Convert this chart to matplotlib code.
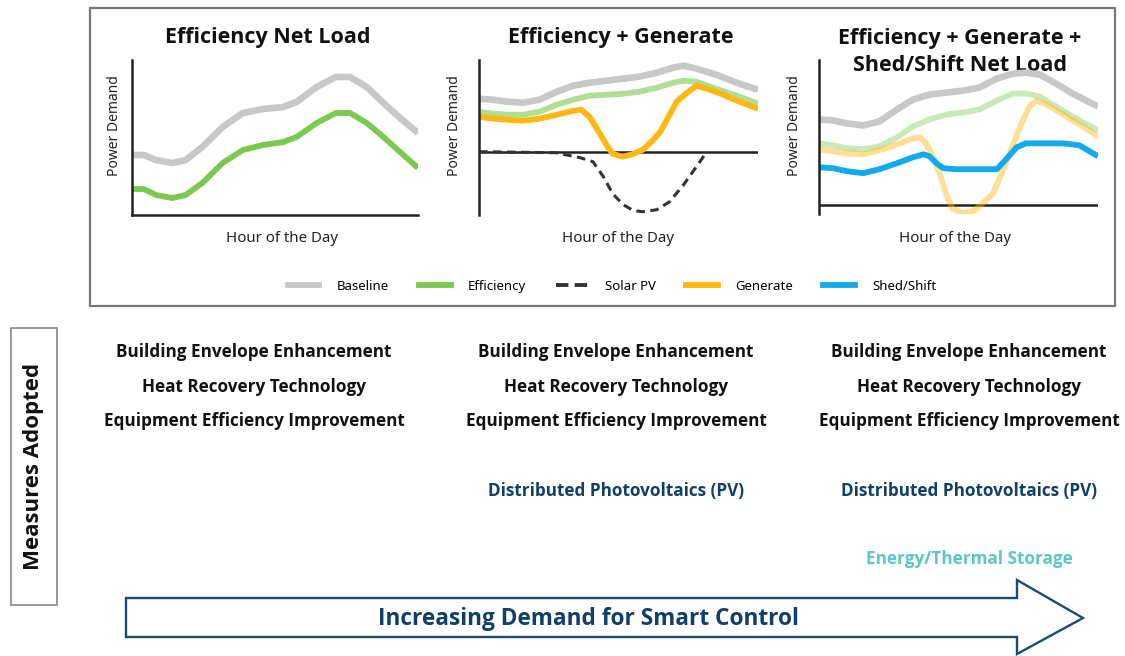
import matplotlib.pyplot as plt
from matplotlib.patches import Polygon, Rectangle
from matplotlib.lines import Line2D

# ---- data (hour of day vs. relative power demand) ----
H1 = [0, 1, 2, 3.4, 4.5, 5.9, 7.6, 9.3, 11, 12.7, 13.8, 15.5, 17.1, 18.3, 19.7, 21.1, 22.5, 24]
base1 = [60, 60, 55, 52, 55, 68, 88, 102, 106, 108, 113, 128, 138, 138, 128, 112, 97, 82]
eff1 = [26, 26, 20, 17, 20, 32, 52, 65, 70, 73, 78, 92, 102, 102, 92, 78, 63, 47]

H2 = [0, 1.2, 2.4, 3.8, 5.2, 6.7, 8.1, 9.5, 11, 12.4, 13.8, 15.3, 16.7, 17.6, 18.7, 20.4, 22.4, 24]
base2 = [53, 52, 50, 49, 52, 60, 66, 69, 71, 73, 75, 79, 84, 86, 83, 77, 68, 62]
eff2 = [40, 38, 37, 37, 40, 47, 52, 56, 57, 58, 60, 64, 69, 71, 70, 63, 55, 48]
gen2_h = [0, 1.2, 2.4, 3.8, 5.2, 6.7, 8.1, 8.8, 9.5, 10.4, 11.0, 11.5, 12.3, 13.1, 14.1,
          15.0, 15.6, 16.4, 17.0, 17.8, 18.7, 19.6, 21.0, 22.4, 24]
gen2 = [35, 33, 32, 31, 33, 37, 41, 42, 35, 18, 6, -2, -5, -3, 2,
        12, 20, 37, 50, 58, 66, 63, 57, 50, 43]
pv2_h = [0, 6.6, 8.7, 9.8, 10.7, 11.5, 12.4, 13.3, 14.1, 15.3, 16.4, 17.6, 18.7, 19.6]
pv2 = [0, -1, -6, -10, -25, -42, -53, -59, -60, -58, -50, -33, -15, 0]

H3 = [0, 1.2, 2.4, 3.8, 5.2, 6.7, 8.1, 9.5, 11, 12.4, 13.8, 15.3, 16.7, 17.8, 19, 20.4, 21.8, 24]
base3 = [86, 85, 82, 80, 84, 96, 106, 111, 113, 115, 118, 127, 132, 133, 131, 122, 112, 99]
eff3 = [62, 60, 57, 56, 59, 68, 79, 86, 91, 93, 96, 105, 112, 112, 109, 99, 89, 75]
gen3_h = [0, 1.2, 2.4, 3.8, 5.2, 6.7, 8.1, 8.7, 9.2, 9.8, 10.4, 11, 11.5, 12.4, 13.3,
          14.1, 15, 15.5, 16.4, 17.3, 18.1, 18.7, 19.6, 21, 22.4, 24]
gen3 = [56, 54, 52, 51, 55, 61, 67, 68, 62, 49, 31, 9, -4, -8, -6,
        2, 12, 26, 52, 79, 99, 105, 101, 91, 81, 69]
shed3_h = [0, 1.2, 2.4, 3.8, 5.2, 6.7, 8.1, 9, 9.5, 10.1, 10.7, 11.8, 13.8, 15.3, 16.1,
           17, 17.8, 19.6, 21, 22.4, 24]
shed3 = [38, 37, 34, 32, 36, 42, 48, 51, 49, 42, 37, 36, 36, 36, 46,
         58, 62, 62, 62, 60, 49]

titles = ["Efficiency Net Load", "Efficiency + Generate", "Efficiency + Generate +\nShed/Shift Net Load"]
legend_labels = ["Baseline", "Efficiency", "Solar PV", "Generate", "Shed/Shift"]
measures = ["Building Envelope Enhancement", "Heat Recovery Technology",
            "Equipment Efficiency Improvement"]
pv_text = "Distributed Photovoltaics (PV)"
storage_text = "Energy/Thermal Storage"
arrow_text = "Increasing Demand for Smart Control"

# ---- colours ----
GRAY = '#c8c8c8'
GREEN = '#7cc94f'
ORANGE = '#ffb812'
BLUE = '#12aaec'
NAVY = '#123f66'
TEAL = '#5cc6c8'
LW = 4.2

W, H = 1125, 656
fig = plt.figure(figsize=(W / 100, H / 100), dpi=100)


def rect(x0, y0, x1, y1):
    return [x0 / W, 1 - y1 / H, (x1 - x0) / W, (y1 - y0) / H]


# background axes in pixel units for the box, text and arrow
bg = fig.add_axes([0, 0, 1, 1])
bg.set_xlim(0, W)
bg.set_ylim(H, 0)
bg.axis('off')
bg.add_patch(Rectangle((90, 8), 1025, 298, fill=False, ec='#777777', lw=1.6))


def panel(box, ylim, zero_line, xlab_x, ylab_x, ylab_y):
    ax = fig.add_axes(rect(*box))
    ax.set_facecolor('none')
    ax.set_xlim(0, 24)
    ax.set_ylim(*ylim)
    ax.set_xticks([])
    ax.set_yticks([])
    for s in ['top', 'right']:
        ax.spines[s].set_visible(False)
    ax.spines['left'].set_linewidth(1.8)
    ax.spines['left'].set_color('#222222')
    if zero_line:
        ax.spines['bottom'].set_visible(False)
        ax.axhline(0, color='#222222', lw=1.8, zorder=1)
    else:
        ax.spines['bottom'].set_linewidth(1.8)
        ax.spines['bottom'].set_color('#222222')
    x0, y0, x1, y1 = box
    ax.set_xlabel("Hour of the Day", fontsize=10.8, color='#222222', family='Noto Sans')
    ax.xaxis.label.set_va('center')
    ax.xaxis.set_label_coords((xlab_x - x0) / (x1 - x0), (y1 - 238) / (y1 - y0))
    ax.set_ylabel("Power Demand", fontsize=10, color='#222222', family='Noto Sans')
    ax.yaxis.label.set_va('center')
    ax.yaxis.set_label_coords((ylab_x - x0) / (x1 - x0), (y1 - ylab_y) / (y1 - y0))
    return ax


line_kw = dict(solid_capstyle='butt', solid_joinstyle='round')

ax1 = panel((132, 60, 418, 215), (0, 155), False, 282, 114, 126)
ax1.plot(H1, base1, color=GRAY, lw=LW + 0.6, **line_kw)
ax1.plot(H1, eff1, color=GREEN, lw=LW, **line_kw)

ax2 = panel((479, 60, 758, 215), (-63.3, 91.7), True, 618, 455, 126)
ax2.plot(pv2_h, pv2, color='#333333', lw=2.2, ls=(0, (2.8, 1.8)), zorder=2)
ax2.plot(H2, base2, color=GRAY, lw=LW + 0.6, **line_kw)
ax2.plot(H2, eff2, color=GREEN, alpha=0.6, lw=LW, **line_kw)
ax2.plot(gen2_h, gen2, color=ORANGE, lw=LW, **line_kw)

ax3 = panel((819, 60, 1098, 214), (-9, 145.7), True, 955, 795, 126)
ax3.plot(H3, base3, color=GRAY, lw=LW + 0.6, **line_kw)
ax3.plot(H3, eff3, color=GREEN, alpha=0.4, lw=LW, **line_kw)
ax3.plot(gen3_h, gen3, color=ORANGE, alpha=0.45, lw=LW, **line_kw)
ax3.plot(shed3_h, shed3, color=BLUE, lw=LW, **line_kw)

# titles
title_font = dict(family='Open Sans', weight='bold', fontsize=15.5, color='#111111',
                  ha='center', va='center')
bg.text(268, 38, titles[0], **title_font)
bg.text(621, 38, titles[1], **title_font)
bg.text(960, 52, titles[2], linespacing=1.35, **title_font)

# legend
handles = [Line2D([], [], color=GRAY, lw=LW),
           Line2D([], [], color=GREEN, lw=LW),
           Line2D([], [], color='#333333', lw=2.8, ls=(0, (3.2, 1.6))),
           Line2D([], [], color=ORANGE, lw=LW),
           Line2D([], [], color=BLUE, lw=LW)]
fig.legend(handles, legend_labels, loc='center', bbox_to_anchor=(612 / W, 1 - 286 / H),
           ncol=5, frameon=False, handlelength=2.4, handletextpad=1.3, columnspacing=2.3,
           prop=dict(family='Noto Sans', size=9.5))

# measures adopted
col_x = [254, 616, 969]
row_y = [352, 387, 421]
text_font = dict(family='Open Sans', weight='bold', fontsize=12.3, ha='center', va='center')
for cx in col_x:
    for ry, m in zip(row_y, measures):
        bg.text(cx, ry, m, color='#111111', **text_font)
for cx in col_x[1:]:
    bg.text(cx, 491, pv_text, color=NAVY, **text_font)
bg.text(col_x[2], 559, storage_text, color=TEAL, **text_font)

bg.add_patch(Rectangle((11, 328), 46, 277, fill=False, ec='#888888', lw=1.2))
bg.text(34, 466, "Measures Adopted", rotation=90, family='Open Sans', weight='bold',
        fontsize=16, color='#111111', ha='center', va='center')

# arrow
arrow_pts = [(126, 598), (1017, 598), (1017, 580), (1083, 618), (1017, 654),
             (1017, 637), (126, 637)]
bg.add_patch(Polygon(arrow_pts, closed=True, fc='white', ec='#1d4a72', lw=1.7))
bg.text(588, 619, arrow_text, family='Open Sans', weight='bold', fontsize=16.3,
        color=NAVY, ha='center', va='center')

fig.savefig('out.png', dpi=100)
